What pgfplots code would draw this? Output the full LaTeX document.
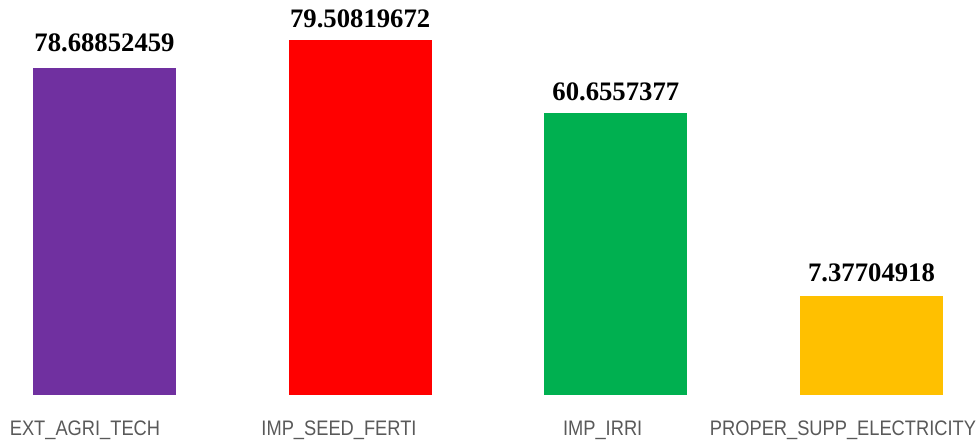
\documentclass[border=0pt]{standalone}
\usepackage{pgfplots}
\pgfplotsset{compat=1.18}
\usepackage{fontspec}
\setmainfont{Liberation Serif}
\newfontfamily\catfont[FakeStretch=0.87]{Liberation Sans}
\definecolor{cpurple}{HTML}{7030A0}
\definecolor{cred}{HTML}{FF0000}
\definecolor{cgreen}{HTML}{00B050}
\definecolor{cgold}{HTML}{FFC000}
\definecolor{catgray}{HTML}{595959}
\begin{document}
\begin{tikzpicture}
\begin{axis}[
  scale only axis, width=979pt, height=440pt,
  xmin=-0.4087, xmax=3.4205, ymin=-10.079, ymax=88.467,
  ybar, bar width=0.5593,
  axis line style={draw=none},
  ytick=\empty,
  xtick={-0.0763,0.9172,1.9486,2.8885},
  xticklabels={EXT\_AGRI\_TECH, IMP\_SEED\_FERTI, IMP\_IRRI, PROPER\_SUPP\_ELECTRICITY},
  major tick length=0pt,
  xticklabel style={anchor=base, yshift=4.3pt, font=\catfont\fontsize{21}{24}\selectfont, text=catgray, inner sep=0pt},
  nodes near coords, point meta=explicit symbolic,
  every node near coord/.append style={font=\bfseries\fontsize{26.7}{30}\selectfont, anchor=south, inner sep=0pt, yshift=12.3pt, text=black},
  clip=false,
]
\addplot[fill=cpurple, draw=none, bar shift=0pt,
  every node near coord/.append style={yshift=4.2pt}] table[meta=label]{
x y label
0 73.24 78.68852459
};
\addplot[fill=cred, draw=none, bar shift=0pt] table[meta=label]{
x y label
1 79.51 79.50819672
};
\addplot[fill=cgreen, draw=none, bar shift=0pt] table[meta=label]{
x y label
2 63.16 60.6557377
};
\addplot[fill=cgold, draw=none, bar shift=0pt,
  every node near coord/.append style={yshift=1.3pt}] table[meta=label]{
x y label
3 22.17 7.37704918
};
\end{axis}
\end{tikzpicture}
\end{document}
